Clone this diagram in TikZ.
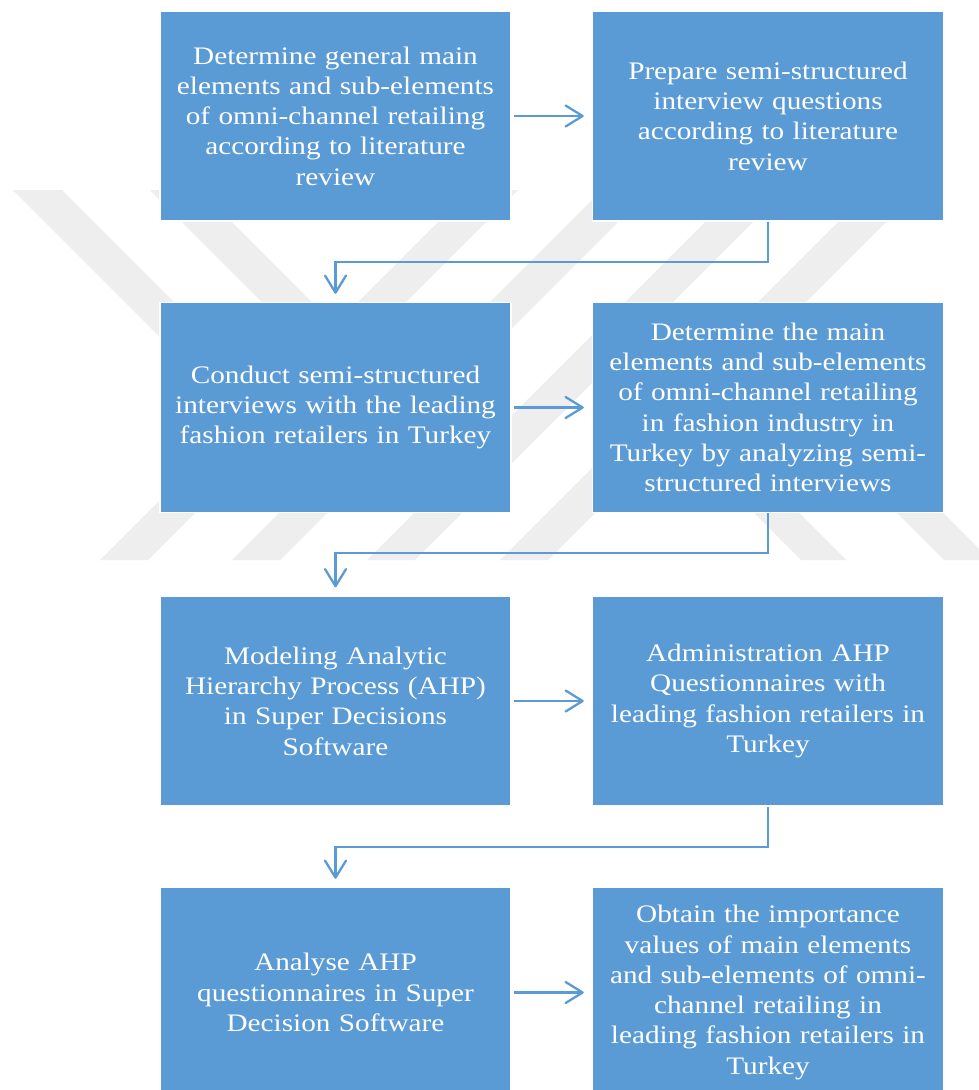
\documentclass[tikz,border=0pt]{standalone}
\usepackage{fontspec}
\setmainfont{Liberation Serif}[FakeStretch=1.16]
\usetikzlibrary{arrows.meta}
\definecolor{boxblue}{HTML}{5B9BD5}
\definecolor{wmgray}{HTML}{EEEEEE}
\tikzset{
  stepbox/.style={rectangle, fill=boxblue, draw=white, line width=1.5pt,
    minimum width=351pt, minimum height=210pt, text width=336pt,
    align=center, text=white, inner sep=0pt,
    font=\fontsize{25.2pt}{30.3pt}\selectfont},
  flow/.style={draw=boxblue, line width=2.3pt,
    -{Straight Barb[length=17pt,width=21pt,round]}},
  wm/.style={fill=wmgray, draw=none}
}
\begin{document}
\begin{tikzpicture}[x=1pt,y=-1pt]
\useasboundingbox (0,0) rectangle (979,1090);
\clip (0,0) rectangle (979,1090);
\fill[white] (0,0) rectangle (979,1090);
% faint watermark
\foreach \xb in {100,232,367,500}{
  \fill[wm] (\xb,560) -- (\xb+48,560) -- (\xb+418,190) -- (\xb+370,190) -- cycle;
}
\fill[wm] (13,190) -- (62,190) -- (292,420) -- (243,420) -- cycle;
\fill[wm] (150,190) -- (200,190) -- (400,390) -- (350,390) -- cycle;
\fill[wm] (661,420) -- (706,420) -- (846,560) -- (801,560) -- cycle;
\fill[wm] (804,420) -- (850,420) -- (990,560) -- (944,560) -- cycle;
% boxes
\node[stepbox] (b1) at (335.5,116) {Determine general main\\ elements and sub-elements\\ of omni-channel retailing\\ according to literature\\ review};
\node[stepbox] (b2) at (768,116) {Prepare semi-structured\\ interview questions\\ according to literature\\ review};
\node[stepbox] (b3) at (335.5,407.5) {Conduct semi-structured\\ interviews with the leading\\ fashion retailers in Turkey};
\node[stepbox] (b4) at (768,407.5) {Determine the main\\ elements and sub-elements\\ of omni-channel retailing\\ in fashion industry in\\ Turkey by analyzing semi-\\ structured interviews};
\node[stepbox] (b5) at (335.5,701) {Modeling Analytic\\ Hierarchy Process (AHP)\\ in Super Decisions\\ Software};
\node[stepbox] (b6) at (768,701) {Administration AHP\\ Questionnaires with\\ leading fashion retailers in\\ Turkey};
\node[stepbox] (b7) at (335.5,992.5) {Analyse AHP\\ questionnaires in Super\\ Decision Software};
\node[stepbox] (b8) at (768,992.5) {Obtain the importance\\ values of main elements\\ and sub-elements of omni-\\ channel retailing in\\ leading fashion retailers in\\ Turkey};
% connectors
\draw[flow] ([xshift=2pt]b1.east) -- ([xshift=-8pt]b2.west);
\draw[flow] ([xshift=2pt]b3.east) -- ([xshift=-8pt]b4.west);
\draw[flow] ([xshift=2pt]b5.east) -- ([xshift=-8pt]b6.west);
\draw[flow] ([xshift=2pt]b7.east) -- ([xshift=-8pt]b8.west);
\draw[flow] (b2.south) -- ++(0,40) -| ([yshift=8pt]b3.north);
\draw[flow] (b4.south) -- ++(0,40) -| ([yshift=8pt]b5.north);
\draw[flow] (b6.south) -- ++(0,40) -| ([yshift=8pt]b7.north);
\end{tikzpicture}
\end{document}
